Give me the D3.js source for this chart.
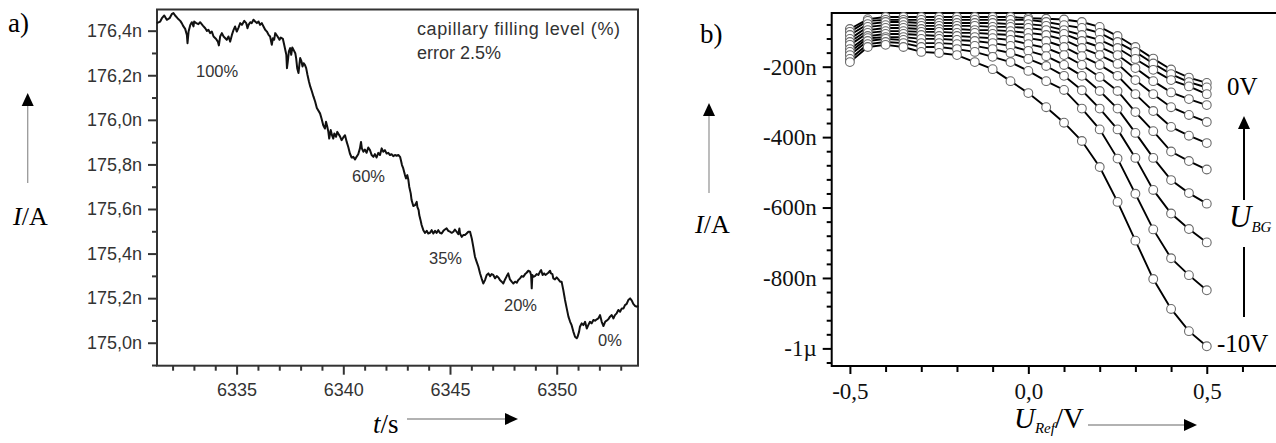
<!DOCTYPE html>
<html>
<head>
<meta charset="utf-8">
<script src="https://cdn.jsdelivr.net/npm/d3@7"></script>
<style>
  body { margin: 0; background: #fff; }
  svg { display: block; }
</style>
</head>
<body>
<svg width="1276" height="443"></svg>
<script>
// ---------- data, panel a: current vs time ----------
const trace = [
  [6331.26,176.434],[6331.42,176.441],[6331.50,176.456],[6331.61,176.468],[6331.73,176.449],[6331.86,176.456],
  [6331.96,176.474],[6332.04,176.479],[6332.12,176.468],[6332.23,176.456],[6332.36,176.444],[6332.43,176.434],
  [6332.51,176.419],[6332.59,176.408],[6332.67,176.381],[6332.70,176.344],[6332.75,176.396],[6332.83,176.426],
  [6332.90,176.438],[6332.98,176.419],[6333.01,176.441],[6333.11,176.434],[6333.21,176.429],[6333.29,176.438],
  [6333.42,176.423],[6333.53,176.411],[6333.61,176.399],[6333.68,176.404],[6333.76,176.389],[6333.84,176.396],
  [6333.92,176.374],[6334.04,176.363],[6334.12,176.351],[6334.17,176.334],[6334.23,176.374],[6334.31,176.389],
  [6334.39,176.374],[6334.47,176.366],[6334.54,176.359],[6334.62,176.374],[6334.70,176.351],[6334.78,176.381],
  [6334.86,176.404],[6334.93,176.419],[6335.01,176.396],[6335.09,176.414],[6335.17,176.434],[6335.25,176.426],
  [6335.36,176.444],[6335.45,176.434],[6335.51,176.411],[6335.56,176.426],[6335.64,176.438],[6335.71,176.434],
  [6335.79,176.449],[6335.87,176.441],[6335.95,176.434],[6336.03,176.441],[6336.10,176.426],[6336.18,176.434],
  [6336.26,176.419],[6336.34,176.404],[6336.42,176.396],[6336.50,176.381],[6336.57,176.374],[6336.65,176.337],
  [6336.70,176.366],[6336.76,176.359],[6336.81,176.389],[6336.92,176.374],[6337.01,176.359],[6337.07,176.369],
  [6337.17,176.363],[6337.23,176.337],[6337.33,176.292],[6337.36,176.232],[6337.40,176.262],[6337.45,176.307],
  [6337.51,176.322],[6337.56,176.292],[6337.61,176.325],[6337.67,176.314],[6337.75,176.299],[6337.79,176.277],
  [6337.84,176.232],[6337.90,176.210],[6337.95,176.254],[6337.98,176.277],[6338.04,176.262],[6338.09,176.239],
  [6338.14,176.254],[6338.20,176.247],[6338.26,176.232],[6338.32,176.202],[6338.39,176.172],[6338.45,176.150],
  [6338.53,176.127],[6338.60,176.105],[6338.68,176.082],[6338.76,176.053],
  [6338.91,176.029],[6338.98,176.006],[6339.06,175.976],[6339.14,175.961],[6339.19,175.991],[6339.25,175.969],
  [6339.30,175.946],[6339.34,175.916],[6339.41,175.954],[6339.47,175.931],[6339.53,175.916],[6339.58,175.939],
  [6339.66,175.924],[6339.72,175.946],[6339.78,175.936],[6339.84,175.927],[6339.92,175.909],[6340.00,175.921],
  [6340.08,175.931],[6340.16,175.901],[6340.23,175.879],[6340.31,175.849],[6340.39,175.831],[6340.47,175.834],
  [6340.55,175.822],[6340.62,175.834],[6340.70,175.846],[6340.78,175.872],[6340.83,175.901],[6340.87,175.872],
  [6340.94,175.857],[6341.01,175.867],[6341.09,175.852],[6341.17,175.876],[6341.25,175.864],[6341.33,175.842],
  [6341.41,175.834],[6341.48,175.846],[6341.56,175.831],[6341.64,175.852],[6341.72,175.842],[6341.80,175.872],
  [6341.87,175.857],[6341.95,175.864],[6342.03,175.849],[6342.11,175.852],[6342.19,175.842],[6342.26,175.846],
  [6342.34,175.837],[6342.42,175.842],[6342.50,175.839],[6342.58,175.842],[6342.66,175.834],[6342.70,175.819],
  [6342.75,175.797],[6342.81,175.782],[6342.89,175.752],[6342.94,175.737],[6343.00,175.752],[6343.05,175.730],
  [6343.09,175.700],[6343.16,175.670],[6343.20,175.640],[6343.28,175.613],[6343.36,175.617],[6343.44,175.632],
  [6343.47,175.610],[6343.53,175.595],[6343.56,175.573],[6343.62,175.550],[6343.67,175.528],[6343.75,175.505],
  [6343.83,175.493],[6343.91,175.502],[6343.98,175.490],[6344.06,175.493],[6344.14,175.505],[6344.22,175.490],
  [6344.30,175.502],[6344.37,175.493],[6344.45,175.505],[6344.53,175.493],[6344.61,175.490],[6344.69,175.502],
  [6344.76,175.508],[6344.84,175.513],[6344.92,175.502],[6345.00,175.498],[6345.08,175.493],[6345.16,175.498],
  [6345.23,175.508],[6345.31,175.498],[6345.39,175.487],[6345.44,175.513],[6345.47,175.490],[6345.55,175.475],
  [6345.62,175.483],[6345.70,175.483],[6345.78,175.490],[6345.86,175.498],
  [6345.94,175.498],[6346.02,175.468],[6346.09,175.431],[6346.17,175.386],[6346.25,175.363],[6346.33,175.341],
  [6346.41,175.311],[6346.48,175.289],[6346.56,175.266],[6346.64,175.281],[6346.72,175.304],[6346.80,175.311],
  [6346.88,175.299],[6346.95,175.308],[6347.03,175.304],[6347.11,175.289],[6347.19,175.299],[6347.27,175.293],
  [6347.34,175.281],[6347.42,175.274],[6347.50,175.266],[6347.58,175.284],[6347.66,175.299],[6347.73,175.311],
  [6347.81,175.284],[6347.89,175.274],[6347.97,175.266],[6348.05,175.274],[6348.13,175.269],[6348.20,175.281],
  [6348.28,175.289],[6348.36,175.299],[6348.44,175.296],[6348.52,175.308],[6348.59,175.314],[6348.67,175.323],
  [6348.75,175.319],[6348.80,175.304],[6348.83,175.244],[6348.86,175.304],[6348.91,175.296],[6348.98,175.299],
  [6349.06,175.308],[6349.14,175.304],[6349.22,175.319],[6349.27,175.326],[6349.34,175.304],[6349.41,175.311],
  [6349.47,175.304],[6349.53,175.308],[6349.61,175.314],[6349.69,175.323],[6349.73,175.311],[6349.80,175.308],
  [6349.84,175.289],[6349.92,175.284],[6350.00,175.293],[6350.08,175.284],[6350.16,175.274],[6350.23,175.274],
  [6350.31,175.236],[6350.39,175.192],[6350.47,175.154],[6350.55,175.117],[6350.63,175.094],[6350.70,175.079],
  [6350.78,175.050],[6350.86,175.027],[6350.94,175.020],[6350.98,175.027],[6351.05,175.050],[6351.09,175.072],
  [6351.17,175.087],[6351.25,175.079],[6351.33,175.094],[6351.41,175.064],[6351.48,175.079],[6351.56,175.094],
  [6351.64,175.087],[6351.72,175.102],[6351.80,175.099],[6351.88,175.105],[6351.95,175.109],[6352.03,175.124],
  [6352.11,175.094],[6352.19,175.075],[6352.27,175.094],[6352.34,175.099],[6352.42,175.105],[6352.50,175.117],
  [6352.58,175.124],[6352.66,175.109],[6352.73,175.124],[6352.81,175.132],[6352.89,175.147],[6352.97,175.139],
  [6353.05,175.154],[6353.13,175.154],[6353.20,175.169],[6353.28,175.174],[6353.36,175.192],[6353.44,175.199],
  [6353.52,175.189],[6353.59,175.174],[6353.67,175.165],[6353.75,175.162],[6353.83,175.165]
];
const fillLabels = ['100%', '60%', '35%', '20%', '0%'];
const yMajorA = [175.0, 175.2, 175.4, 175.6, 175.8, 176.0, 176.2, 176.4];
const yMinorA = [174.9, 175.1, 175.3, 175.5, 175.7, 175.9, 176.1, 176.3];
const xMajorA = [6335, 6340, 6345, 6350];
const xMinorA = [6332, 6333, 6334, 6336, 6337, 6338, 6339, 6341, 6342, 6343, 6344, 6346, 6347, 6348, 6349, 6351, 6352, 6353];

// ---------- data, panel b: current (nA) vs U_Ref, one row per back-gate voltage ----------
const uRef = [-0.5, -0.45, -0.4, -0.35, -0.3, -0.25, -0.2, -0.15, -0.1, -0.05, 0, 0.05, 0.1, 0.15, 0.2, 0.25, 0.3, 0.35, 0.4, 0.45, 0.5];
const iBG0V  = [-93, -65, -59, -59, -59, -59, -59, -59, -59, -59, -62, -64, -66, -73, -87, -113, -144, -177, -208, -231, -246];
const iBG1V  = [-101, -70, -67, -67, -67, -67, -67, -67, -67, -67, -67, -73, -82, -90, -104, -130, -158, -191, -221, -244, -259];
const iBG2V  = [-110, -79, -73, -73, -76, -76, -76, -76, -76, -79, -79, -84, -96, -110, -124, -147, -178, -209, -238, -256, -278];
const iBG3V  = [-121, -87, -82, -82, -84, -84, -84, -84, -87, -87, -90, -96, -107, -127, -144, -167, -204, -241, -273, -292, -309];
const iBG4V  = [-130, -96, -90, -90, -93, -93, -93, -96, -96, -99, -104, -110, -124, -147, -167, -192, -238, -278, -315, -337, -357];
const iBG5V  = [-138, -104, -99, -99, -101, -101, -104, -104, -107, -110, -119, -127, -144, -170, -195, -226, -278, -326, -371, -396, -417];
const iBG6V  = [-150, -113, -107, -107, -110, -113, -113, -116, -119, -124, -136, -147, -167, -195, -229, -269, -329, -383, -441, -468, -492];
const iBG7V  = [-158, -119, -116, -116, -121, -121, -124, -127, -133, -141, -155, -170, -195, -226, -269, -319, -388, -459, -522, -559, -589];
const iBG8V  = [-167, -127, -121, -124, -133, -133, -136, -141, -150, -161, -178, -198, -226, -267, -319, -378, -459, -550, -617, -661, -699];
const iBG9V  = [-178, -136, -130, -133, -144, -144, -150, -158, -172, -187, -212, -241, -266, -319, -378, -461, -561, -662, -744, -792, -835];
const iBG10V = [-187, -144, -138, -144, -158, -161, -167, -187, -207, -241, -275, -315, -359, -411, -485, -584, -694, -803, -888, -951, -994];
const curvesB = [iBG0V, iBG1V, iBG2V, iBG3V, iBG4V, iBG5V, iBG6V, iBG7V, iBG8V, iBG9V, iBG10V];
const yMajorB = [-1000, -800, -600, -400, -200];
const yMinorB = [-1040, -960, -920, -880, -840, -760, -720, -680, -640, -560, -520, -480, -440, -360, -320, -280, -240, -160, -120, -80];
const xMajorB = [-0.5, 0, 0.5];
const xMinorB = [-0.4, -0.3, -0.2, -0.1, 0.1, 0.2, 0.3, 0.4, 0.6];

const svg = d3.select('svg');
const sans = '"Liberation Sans", Arial, sans-serif';
const serif = '"Liberation Serif", "Times New Roman", serif';

svg.append('rect').attr('width', 1276).attr('height', 443).attr('fill', '#fff');

// arrow helper: thin shaft + filled head
function arrow(x1, y1, x2, y2, color, width) {
  const ang = Math.atan2(y2 - y1, x2 - x1);
  const hl = 13, hw = 6;
  const bx = x2 - hl * Math.cos(ang), by = y2 - hl * Math.sin(ang);
  svg.append('line').attr('x1', x1).attr('y1', y1).attr('x2', bx).attr('y2', by)
    .attr('stroke', color).attr('stroke-width', width);
  svg.append('path')
    .attr('d', `M${x2},${y2}L${bx - hw * Math.sin(ang)},${by + hw * Math.cos(ang)}L${bx + hw * Math.sin(ang)},${by - hw * Math.cos(ang)}Z`)
    .attr('fill', '#000');
}

// ================= panel a =================
const xA = d3.scaleLinear().domain([6331.27, 6353.81]).range([157, 638]);
const yA = d3.scaleLinear().domain([174.897, 176.495]).range([365.7, 9.5]);
const inkA = '#333';

const gA = svg.append('g');
const fmtA = d => d3.format('.1f')(d).replace('.', ',') + 'n';

gA.append('g').attr('transform', 'translate(157,0)')
  .call(d3.axisLeft(yA).tickValues(yMinorA).tickSize(5).tickFormat(''));
gA.append('g').attr('transform', 'translate(157,0)')
  .call(d3.axisLeft(yA).tickValues(yMajorA).tickSize(9).tickPadding(6).tickFormat(fmtA));
gA.append('g').attr('transform', 'translate(0,365.7)')
  .call(d3.axisBottom(xA).tickValues(xMinorA).tickSize(5).tickFormat(''));
gA.append('g').attr('transform', 'translate(0,365.7)')
  .call(d3.axisBottom(xA).tickValues(xMajorA).tickSize(9).tickPadding(9).tickFormat(d3.format('d')));

gA.selectAll('.domain').remove();
gA.selectAll('.tick line').attr('stroke', inkA).attr('stroke-width', 2);
gA.selectAll('.tick text').attr('fill', '#333').style('font-family', sans).style('font-size', '18px');

gA.append('rect').attr('x', 157).attr('y', 9.5).attr('width', 638 - 157).attr('height', 365.7 - 9.5)
  .attr('fill', 'none').attr('stroke', inkA).attr('stroke-width', 2);

gA.append('path').datum(trace)
  .attr('d', d3.line().x(d => xA(d[0])).y(d => yA(d[1])))
  .attr('fill', 'none').attr('stroke', '#111').attr('stroke-width', 2).attr('stroke-linejoin', 'round');

const annA = [[196, 77], [352, 182], [429, 264], [504, 311], [598, 346]];
gA.selectAll('.fill').data(fillLabels).join('text')
  .attr('x', (d, i) => annA[i][0]).attr('y', (d, i) => annA[i][1])
  .attr('fill', '#333').style('font-family', sans).style('font-size', '16.5px')
  .text(d => d);

gA.append('text').attr('x', 417).attr('y', 35).attr('fill', '#333')
  .attr('textLength', 203).attr('lengthAdjust', 'spacing')
  .style('font-family', sans).style('font-size', '18px').text('capillary filling level (%)');
gA.append('text').attr('x', 417).attr('y', 59).attr('fill', '#333')
  .style('font-family', sans).style('font-size', '18px').text('error 2.5%');

svg.append('text').attr('x', 8).attr('y', 32).style('font-family', serif).style('font-size', '27px').text('a)');

const iaA = svg.append('text').attr('x', 13).attr('y', 225).style('font-family', serif).style('font-size', '26px');
iaA.append('tspan').style('font-style', 'italic').text('I');
iaA.append('tspan').text('/A');
arrow(27.7, 183, 27.7, 93, '#999', 1.3);

const ts = svg.append('text').attr('x', 373).attr('y', 433).style('font-family', serif).style('font-size', '27px');
ts.append('tspan').style('font-style', 'italic').text('t');
ts.append('tspan').text('/s');
arrow(407, 419, 518, 419, '#999', 1.3);

// ================= panel b =================
const xB = d3.scaleLinear().domain([-0.551, 0.694]).range([831.7, 1276]);
const yB = d3.scaleLinear().domain([-1050, -47.5]).range([366, 13]);

const gB = svg.append('g');
const fmtBy = d => d === -1000 ? '-1\u00b5' : d + 'n';
const fmtBx = d => d3.format('.1f')(d).replace('.', ',').replace('\u2212', '-');

gB.append('g').attr('transform', 'translate(831.7,0)')
  .call(d3.axisLeft(yB).tickValues(yMinorB).tickSize(5).tickFormat(''));
gB.append('g').attr('transform', 'translate(831.7,0)')
  .call(d3.axisLeft(yB).tickValues(yMajorB).tickSize(9).tickPadding(6).tickFormat(fmtBy));
gB.append('g').attr('transform', 'translate(0,366)')
  .call(d3.axisBottom(xB).tickValues(xMinorB).tickSize(6).tickFormat(''));
gB.append('g').attr('transform', 'translate(0,366)')
  .call(d3.axisBottom(xB).tickValues(xMajorB).tickSize(8).tickPadding(9).tickFormat(fmtBx));

gB.selectAll('.domain').remove();
gB.selectAll('.tick line').attr('stroke', '#000').attr('stroke-width', 2);
gB.selectAll('.tick text').attr('fill', '#111').style('font-family', serif).style('font-size', '23px');

gB.append('rect').attr('x', 831.7).attr('y', 13).attr('width', 1290 - 831.7).attr('height', 366 - 13)
  .attr('fill', 'none').attr('stroke', '#000').attr('stroke-width', 2);

const lineB = d3.line().x((d, i) => xB(uRef[i])).y(d => yB(d));
gB.selectAll('.curve').data(curvesB).join('path')
  .attr('d', lineB).attr('fill', 'none').attr('stroke', '#000').attr('stroke-width', 1.9);

curvesB.forEach(c => {
  gB.append('g').selectAll('circle').data(c).join('circle')
    .attr('cx', (d, i) => xB(uRef[i])).attr('cy', d => yB(d)).attr('r', 4.4)
    .attr('fill', '#fff').attr('stroke', '#6a6a6a').attr('stroke-width', 1.1);
});

svg.append('text').attr('x', 700).attr('y', 43).style('font-family', serif).style('font-size', '27px').text('b)');

const iaB = svg.append('text').attr('x', 695).attr('y', 233).style('font-family', serif).style('font-size', '26px');
iaB.append('tspan').style('font-style', 'italic').text('I');
iaB.append('tspan').text('/A');
arrow(709, 193, 709, 103, '#999', 1.3);

const ur = svg.append('text').attr('x', 1014).attr('y', 428).style('font-family', serif).style('font-size', '29px');
ur.append('tspan').style('font-style', 'italic').text('U');
ur.append('tspan').style('font-style', 'italic').style('font-size', '15px').attr('dy', 5).text('Ref');
ur.append('tspan').attr('dy', -5).text('/V');
arrow(1088, 425, 1197, 425, '#999', 1.3);

svg.append('text').attr('x', 1227).attr('y', 95).style('font-family', serif).style('font-size', '25px').text('0V');
svg.append('text').attr('x', 1217).attr('y', 352).style('font-family', serif).style('font-size', '25px').text('-10V');

const ubg = svg.append('text').attr('x', 1229).attr('y', 227).style('font-family', serif).style('font-size', '31px');
ubg.append('tspan').style('font-style', 'italic').text('U');
ubg.append('tspan').style('font-style', 'italic').style('font-size', '15px').attr('dy', 5).text('BG');
arrow(1244, 200, 1244, 116, '#000', 2);
svg.append('line').attr('x1', 1244).attr('y1', 247).attr('x2', 1244).attr('y2', 317)
  .attr('stroke', '#000').attr('stroke-width', 2);
</script>
</body>
</html>
